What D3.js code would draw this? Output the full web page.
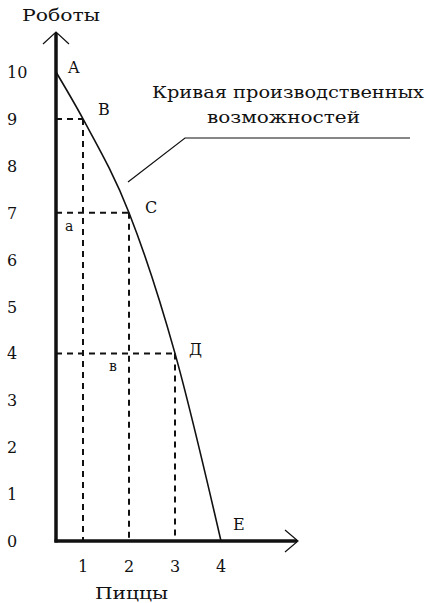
<!DOCTYPE html>
<html><head><meta charset="utf-8">
<script src="https://cdn.jsdelivr.net/npm/d3@7"></script>
<style>
html,body{margin:0;padding:0;background:#fff;}
svg{display:block;}
text{font-family:"DejaVu Serif","Liberation Serif",serif;fill:#111;}
</style></head>
<body>
<script>
// Data
const pointNames = ["A", "B", "C", "Д", "E"];
const pizzas = [0, 1, 2, 3, 4];
const robots = [10, 9, 7, 4, 0];
const yTicks = [0, 1, 2, 3, 4, 5, 6, 7, 8, 9, 10];
const xTicks = [1, 2, 3, 4];
const areaLabels = ["а", "в"];
const xTitle = "Пиццы";
const yTitle = "Роботы";
const curveTitle = ["Кривая производственных", "возможностей"];

const W = 427, H = 603;
const svg = d3.select("body").append("svg").attr("width", W).attr("height", H);

const x0 = 56;
const x = d3.scaleLinear().domain([0, 1, 4]).range([x0, x0 + 27, x0 + 165]);
const y = d3.scaleLinear().domain([0, 10]).range([541, 72]);

const ink = "#111";

// dashed guides
const pts = pizzas.map((p, i) => ({ p, r: robots[i], name: pointNames[i] }));
const guides = pts.filter(d => d.p > 0 && d.r > 0);
svg.selectAll(".hg").data(guides).join("line")
  .attr("x1", x(0)).attr("x2", d => x(d.p))
  .attr("y1", d => y(d.r)).attr("y2", d => y(d.r))
  .attr("stroke", ink).attr("stroke-width", 2).attr("stroke-dasharray", "6,5");
svg.selectAll(".vg").data(guides).join("line")
  .attr("x1", d => x(d.p)).attr("x2", d => x(d.p))
  .attr("y1", d => y(d.r)).attr("y2", y(0))
  .attr("stroke", ink).attr("stroke-width", 2).attr("stroke-dasharray", "6,5");

// curve
const line = d3.line().x(d => x(d.p)).y(d => y(d.r)).curve(d3.curveMonotoneX);
svg.append("path").datum(pts).attr("d", line)
  .attr("fill", "none").attr("stroke", ink).attr("stroke-width", 1.6);

// axes
const yTop = 33, xRight = 297;
svg.append("line").attr("x1", x(0)).attr("x2", x(0)).attr("y1", y(0) + 1.5).attr("y2", yTop)
  .attr("stroke", ink).attr("stroke-width", 3.5);
svg.append("line").attr("x1", x(0) - 1.5).attr("x2", xRight).attr("y1", y(0)).attr("y2", y(0))
  .attr("stroke", ink).attr("stroke-width", 3.5);
svg.append("path").attr("d", `M${x(0) - 13},${yTop + 11}L${x(0)},${yTop - 1}L${x(0) + 13},${yTop + 11}`)
  .attr("fill", "none").attr("stroke", ink).attr("stroke-width", 1.2);
svg.append("path").attr("d", `M${xRight - 12},${y(0) - 11}L${xRight + 1},${y(0)}L${xRight - 12},${y(0) + 11}`)
  .attr("fill", "none").attr("stroke", ink).attr("stroke-width", 1.2);

// y tick labels
svg.selectAll(".yt").data(yTicks).join("text")
  .attr("x", 7).attr("y", d => y(d) + 6)
  .attr("font-size", 16).text(d => d);
// x tick labels
svg.selectAll(".xt").data(xTicks).join("text")
  .attr("x", d => x(d)).attr("y", 572).attr("text-anchor", "middle")
  .attr("font-size", 16).text(d => d);

// titles
svg.append("text").attr("x", 22).attr("y", 21).attr("font-size", 16)
  .attr("textLength", 78).attr("lengthAdjust", "spacingAndGlyphs").text(yTitle);
svg.append("text").attr("x", 95).attr("y", 599).attr("font-size", 16)
  .attr("textLength", 73).attr("lengthAdjust", "spacingAndGlyphs").text(xTitle);

// point labels
const labelOffsets = [[12, 1], [15, -4], [16, 0], [14, 2], [12, -11]];
svg.selectAll(".pl").data(pts).join("text")
  .attr("x", (d, i) => x(d.p) + labelOffsets[i][0])
  .attr("y", (d, i) => y(d.r) + labelOffsets[i][1])
  .attr("font-size", 16).text(d => d.name);

// area labels
svg.append("text").attr("x", 65).attr("y", y(7) + 18).attr("font-size", 14).text(areaLabels[0]);
svg.append("text").attr("x", 109).attr("y", y(4) + 18).attr("font-size", 14).text(areaLabels[1]);

// callout
svg.append("text").attr("x", 152).attr("y", 98).attr("font-size", 16)
  .attr("textLength", 272).attr("lengthAdjust", "spacingAndGlyphs").text(curveTitle[0]);
svg.append("text").attr("x", 207).attr("y", 123).attr("font-size", 16)
  .attr("textLength", 153).attr("lengthAdjust", "spacingAndGlyphs").text(curveTitle[1]);
svg.append("path").attr("d", "M128,182L185,138L410,138")
  .attr("fill", "none").attr("stroke", ink).attr("stroke-width", 1.2);
</script>
</body></html>
